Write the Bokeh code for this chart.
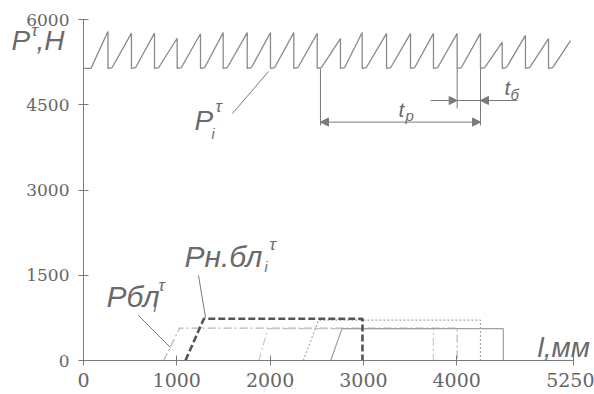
from bokeh.plotting import figure
from bokeh.models import Range1d, FixedTicker, Label, Arrow, NormalHead, LinearAxis
from bokeh.embed import file_html
from bokeh.resources import INLINE

# ---------------- data ----------------
x_ticks = [0, 1000, 2000, 3000, 4000, 5250]
y_ticks = [0, 1500, 3000, 4500, 6000]

# upper sawtooth P_i^tau : peak positions (mm) and peak values (N)
saw_peak_x = [262, 514, 761, 1004, 1254, 1497, 1755, 2004, 2254, 2505, 2754,
              2987, 3248, 3505, 3751, 4005, 4255, 4488, 4737, 4984, 5220]
saw_peak_y = [5790, 5760, 5760, 5670, 5750, 5770, 5770, 5770, 5770, 5755, 5665,
              5770, 5755, 5755, 5755, 5755, 5755, 5600, 5720, 5665, 5630]
saw_base = 5140
saw_first_rise = 80

# lower load curves (mm, N)
pnbl_x = [1093, 1290, 2990, 2990]          # Pн.бл (heavy dashed)
pnbl_y = [0, 734, 734, 0]
pbl_x = [860, 1030, 4005, 4005]            # Pбл (dash-dot)
pbl_y = [0, 570, 570, 0]
b_x = [1880, 1975, 3750, 3750]             # dash-dot, second roll
b_y = [0, 560, 560, 0]
c_x = [2355, 2520, 4255, 4255]             # dotted
c_y = [0, 710, 710, 0]
d_x = [2650, 2770, 4500, 4500]             # solid light
d_y = [0, 560, 560, 0]

# dimension marks t_р and t_б (mm, N)
tp_x = [2540, 4255]
tp_y = 4195
tb_x = [4005, 4255]
tb_y = 4575
tb_ext = [3720, 4648]

# ---------------- helpers for placing annotations ----------------
def X(px):
    return (px - 83) * 1000 / 93.3

def Y(py):
    return (360 - py) * 6000 / 341

GRAY = "#7a7a7a"
LIGHT = "#b4b4b4"
DARK = "#555555"

# the frame covers the whole canvas; axes are drawn at x=0 / y=0
p = figure(width=594, height=394, output_backend="svg", toolbar_location=None,
           x_range=Range1d(X(0), X(594)), y_range=Range1d(Y(394), Y(0)),
           x_axis_location=None, y_axis_location=None,
           min_border=0)
p.outline_line_color = None
p.xgrid.visible = False
p.ygrid.visible = False
p.background_fill_color = "white"
p.border_fill_color = "white"

xa = LinearAxis(fixed_location=0)
ya = LinearAxis(fixed_location=0)
p.add_layout(xa, "below")
p.add_layout(ya, "left")

for ax, ticks, bnd, fs in ((xa, x_ticks, (0, 5250), "19px"),
                            (ya, y_ticks, (0, 6000), "17px")):
    ax.ticker = FixedTicker(ticks=ticks)
    ax.bounds = bnd
    ax.axis_line_color = GRAY
    ax.major_tick_line_color = GRAY
    ax.minor_tick_line_color = None
    ax.major_tick_in = 5
    ax.major_tick_out = 5
    ax.major_label_text_font = "DejaVu Serif"
    ax.major_label_text_font_size = fs
    ax.major_label_text_color = "#666666"
xa.major_label_standoff = 7
ya.major_label_standoff = 9

# sawtooth
sx = [0, saw_first_rise]
sy = [saw_base, saw_base]
n = len(saw_peak_x)
for i, (px_, pv) in enumerate(zip(saw_peak_x, saw_peak_y)):
    sx.append(px_)
    sy.append(pv)
    if i < n - 1:
        sx += [px_, px_ + 45]
        sy += [saw_base, saw_base + 15]
p.line(sx, sy, line_color="#8a8a8a", line_width=1.3)

# lower curves
p.line(pbl_x, pbl_y, line_color=LIGHT, line_width=1.2, line_dash="8 3 2 3")
p.line(b_x, b_y, line_color="#c4c4c4", line_width=1.1, line_dash="8 3 2 3")
p.line(c_x, c_y, line_color="#a8a8a8", line_width=1.2, line_dash="2 2")
p.line(d_x, d_y, line_color="#a0a0a0", line_width=1.2)
p.line(pnbl_x, pnbl_y, line_color=DARK, line_width=2.6, line_dash="7 3")

# dimension lines
p.segment(x0=[tp_x[0], tp_x[1], tb_x[0]], y0=[saw_base, saw_base, saw_base],
          x1=[tp_x[0], tp_x[1], tb_x[0]], y1=[tp_y - 60, tp_y - 60, tb_y - 140],
          line_color=GRAY, line_width=1)
head = dict(size=8, fill_color=GRAY, line_color=GRAY)
p.add_layout(Arrow(start=NormalHead(**head), end=NormalHead(**head),
                   x_start=tp_x[0], y_start=tp_y, x_end=tp_x[1], y_end=tp_y,
                   line_color=GRAY, line_width=1))
p.add_layout(Arrow(end=NormalHead(**head), x_start=tb_ext[0], y_start=tb_y,
                   x_end=tb_x[0], y_end=tb_y, line_color=GRAY, line_width=1))
p.add_layout(Arrow(end=NormalHead(**head), x_start=tb_ext[1], y_start=tb_y,
                   x_end=tb_x[1], y_end=tb_y, line_color=GRAY, line_width=1))
p.segment(x0=[tb_x[0]], y0=[tb_y], x1=[tb_x[1]], y1=[tb_y], line_color=GRAY, line_width=1)

# leader lines
p.segment(x0=[X(232), X(198), X(138)], y0=[Y(113), Y(275), Y(315)],
          x1=[X(268), X(205), X(170)], y1=[Y(71), Y(317), Y(347)],
          line_color=GRAY, line_width=1)


def lab(text, px, py, size_px, color="#6a6a6a", font="Liberation Sans"):
    # py is the wanted baseline on the reference; shift for the renderer's baseline
    p.add_layout(Label(x=X(px), y=Y(py - 0.36 * size_px), text=text, text_font=font,
                       text_font_size=f"{size_px}px", text_color=color,
                       text_font_style="italic",
                       text_baseline="alphabetic", text_align="left"))

# axis titles
lab("P", 11, 50, 28)
lab("τ", 31, 36, 17)
lab(",Н", 36, 50, 28)
lab("l,мм", 537, 357, 28)

# P_i^tau
lab("P", 194, 130, 28)
lab("τ", 215, 112, 17)
lab("i", 211, 139, 14)

# t_р, t_б
lab("t", 398, 117, 21)
lab("р", 405, 120, 15)
lab("t", 504, 95, 21)
lab("б", 510, 99, 15)

# lower labels
lab("Pн.бл", 184, 267, 30)
lab("τ", 269, 250, 17)
lab("i", 264, 272, 14)
lab("Pбл", 106, 307, 30)
lab("τ", 158, 291, 17)
lab("i", 153, 312, 14)

open("out.html", "w").write(file_html(p, INLINE))
